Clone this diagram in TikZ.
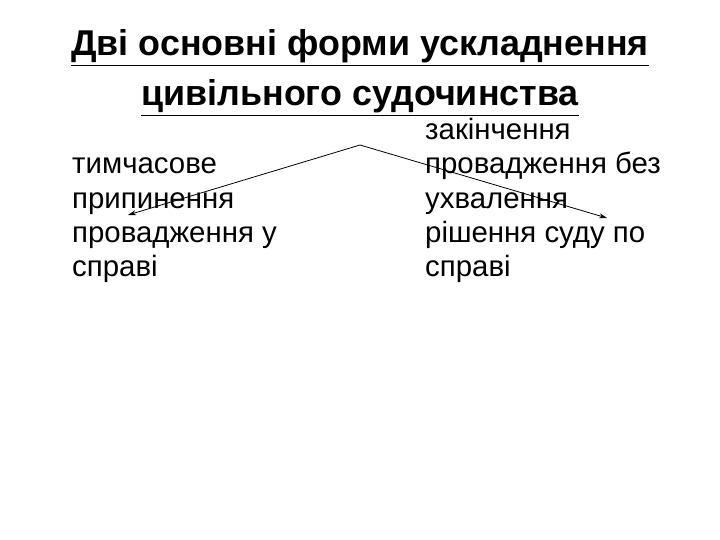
\documentclass[tikz,border=0pt]{standalone}
\usepackage{fontspec}
\usetikzlibrary{arrows.meta}
\setmainfont{Liberation Sans}
\begin{document}
\begin{tikzpicture}[x=1bp,y=-1bp,
  title/.style={font=\fontsize{36}{50}\selectfont\bfseries,align=center,inner sep=0,anchor=base},
  body/.style={font=\fontsize{29.5}{34.5}\selectfont,align=left,anchor=base west,inner sep=0},
  arr/.style={-{Stealth[length=8bp,width=5bp]},line width=0.8pt}]
\useasboundingbox (0,0) rectangle (720,540);
\node[title] (t1) at (360,56) {\underline{Дві основні форми ускладнення}};
\node[title] (t2) at (360,106) {\underline{цивільного судочинства}};
\coordinate (apex) at (360,145);
\coordinate (l) at (128,215);
\coordinate (r) at (607,218);
\draw[arr] (apex) -- (l);
\draw[arr] (apex) -- (r);
\node[body] (a) at (72,277) {тимчасове\\припинення\\провадження у\\справі};
\node[body] (b) at (425,277) {закінчення\\провадження без\\ухвалення\\рішення суду по\\справі};
\end{tikzpicture}
\end{document}
